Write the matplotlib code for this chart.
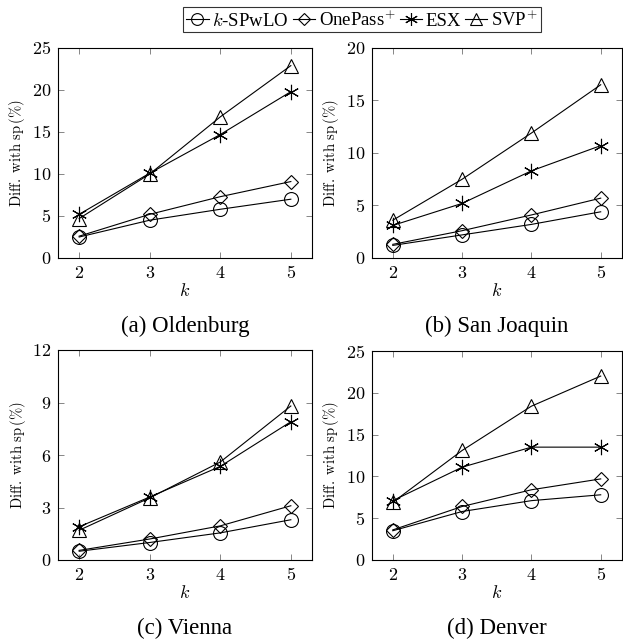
import matplotlib
matplotlib.use('Agg')
import matplotlib.pyplot as plt
from matplotlib.lines import Line2D

plt.rcParams['mathtext.fontset'] = 'cm'
plt.rcParams['font.family'] = ['Liberation Serif', 'DejaVu Serif']

k_values = [2, 3, 4, 5]

# (a) Oldenburg
old_kspwlo = [2.5, 4.5, 5.8, 7.0]
old_onepass = [2.6, 5.2, 7.3, 9.1]
old_esx = [5.2, 10.1, 14.7, 19.8]
old_svp = [4.7, 10.0, 16.8, 22.9]

# (b) San Joaquin
sj_kspwlo = [1.2, 2.2, 3.2, 4.4]
sj_onepass = [1.3, 2.6, 4.1, 5.7]
sj_esx = [3.1, 5.2, 8.3, 10.7]
sj_svp = [3.6, 7.5, 11.9, 16.5]

# (c) Vienna
vie_kspwlo = [0.5, 1.0, 1.55, 2.3]
vie_onepass = [0.55, 1.2, 1.95, 3.1]
vie_esx = [1.9, 3.6, 5.35, 7.9]
vie_svp = [1.7, 3.55, 5.6, 8.8]

# (d) Denver
den_kspwlo = [3.5, 5.8, 7.1, 7.8]
den_onepass = [3.6, 6.4, 8.4, 9.7]
den_esx = [7.1, 11.1, 13.5, 13.5]
den_svp = [6.9, 13.1, 18.4, 22.0]

captions = ['(a) Oldenburg', '(b) San Joaquin', '(c) Vienna', '(d) Denver']
yticks = [[0, 5, 10, 15, 20, 25], [0, 5, 10, 15, 20],
          [0, 3, 6, 9, 12], [0, 5, 10, 15, 20, 25]]
series_names = [r'$k$-SPwLO', r'OnePass$^{+}$', 'ESX', r'SVP$^{+}$']

panels = [
    [old_kspwlo, old_onepass, old_esx, old_svp],
    [sj_kspwlo, sj_onepass, sj_esx, sj_svp],
    [vie_kspwlo, vie_onepass, vie_esx, vie_svp],
    [den_kspwlo, den_onepass, den_esx, den_svp],
]

markers = ['o', 'D', (6, 2, 0), '^']
msizes = [10, 7, 11, 10]

W, H = 623, 641
fig = plt.figure(figsize=(W / 100, H / 100), dpi=100)

# pixel boxes: left, top, right, bottom
boxes = [(58, 48, 312, 258), (372, 48, 621.5, 258),
         (58, 350, 312, 560), (372, 351, 621.5, 560)]

for i, (l, t, r, b) in enumerate(boxes):
    ax = fig.add_axes([l / W, (H - b) / H, (r - l) / W, (b - t) / H])
    for vals, m, ms in zip(panels[i], markers, msizes):
        ax.plot(k_values, vals, color='black', lw=0.8, marker=m, ms=ms,
                mfc='none', mec='black', mew=0.8)
    ax.set_xlim(1.7, 5.3)
    ax.set_ylim(yticks[i][0], yticks[i][-1])
    ax.set_xticks(k_values)
    ax.set_xticklabels([f'${v}$' for v in k_values], fontsize=13)
    ax.set_yticks(yticks[i])
    ax.set_yticklabels([f'${v}$' for v in yticks[i]], fontsize=13)
    ax.tick_params(direction='in', top=True, right=True, length=4,
                   width=0.6, color='0.45', pad=5)
    for s in ax.spines.values():
        s.set_linewidth(0.8)
    ax.set_xlabel(r'$k$', fontsize=13, labelpad=1)
    ax.set_ylabel(r'$\mathrm{Diff.\ with\ sp\,(\%)}$', fontsize=10.5, labelpad=3)
    cx = (l + r) / 2
    cy = b + 68
    fig.text(cx / W, 1 - cy / H, captions[i], ha='center', va='center',
             fontsize=16.5)

handles = [Line2D([], [], color='black', lw=0.8, marker=m, ms=ms * 0.85,
                  mfc='none', mec='black', mew=0.8)
           for m, ms in zip(markers, msizes)]
leg = fig.legend(handles, series_names, loc='center',
                 bbox_to_anchor=(362 / W, 1 - 19.5 / H),
                 ncol=4, fontsize=13.5, frameon=True, fancybox=False,
                 edgecolor='black', handlelength=1.2, handletextpad=0.2,
                 columnspacing=0.2, borderpad=0.15, borderaxespad=0)
leg.get_frame().set_linewidth(0.8)

plt.savefig('out.png', dpi=100)
